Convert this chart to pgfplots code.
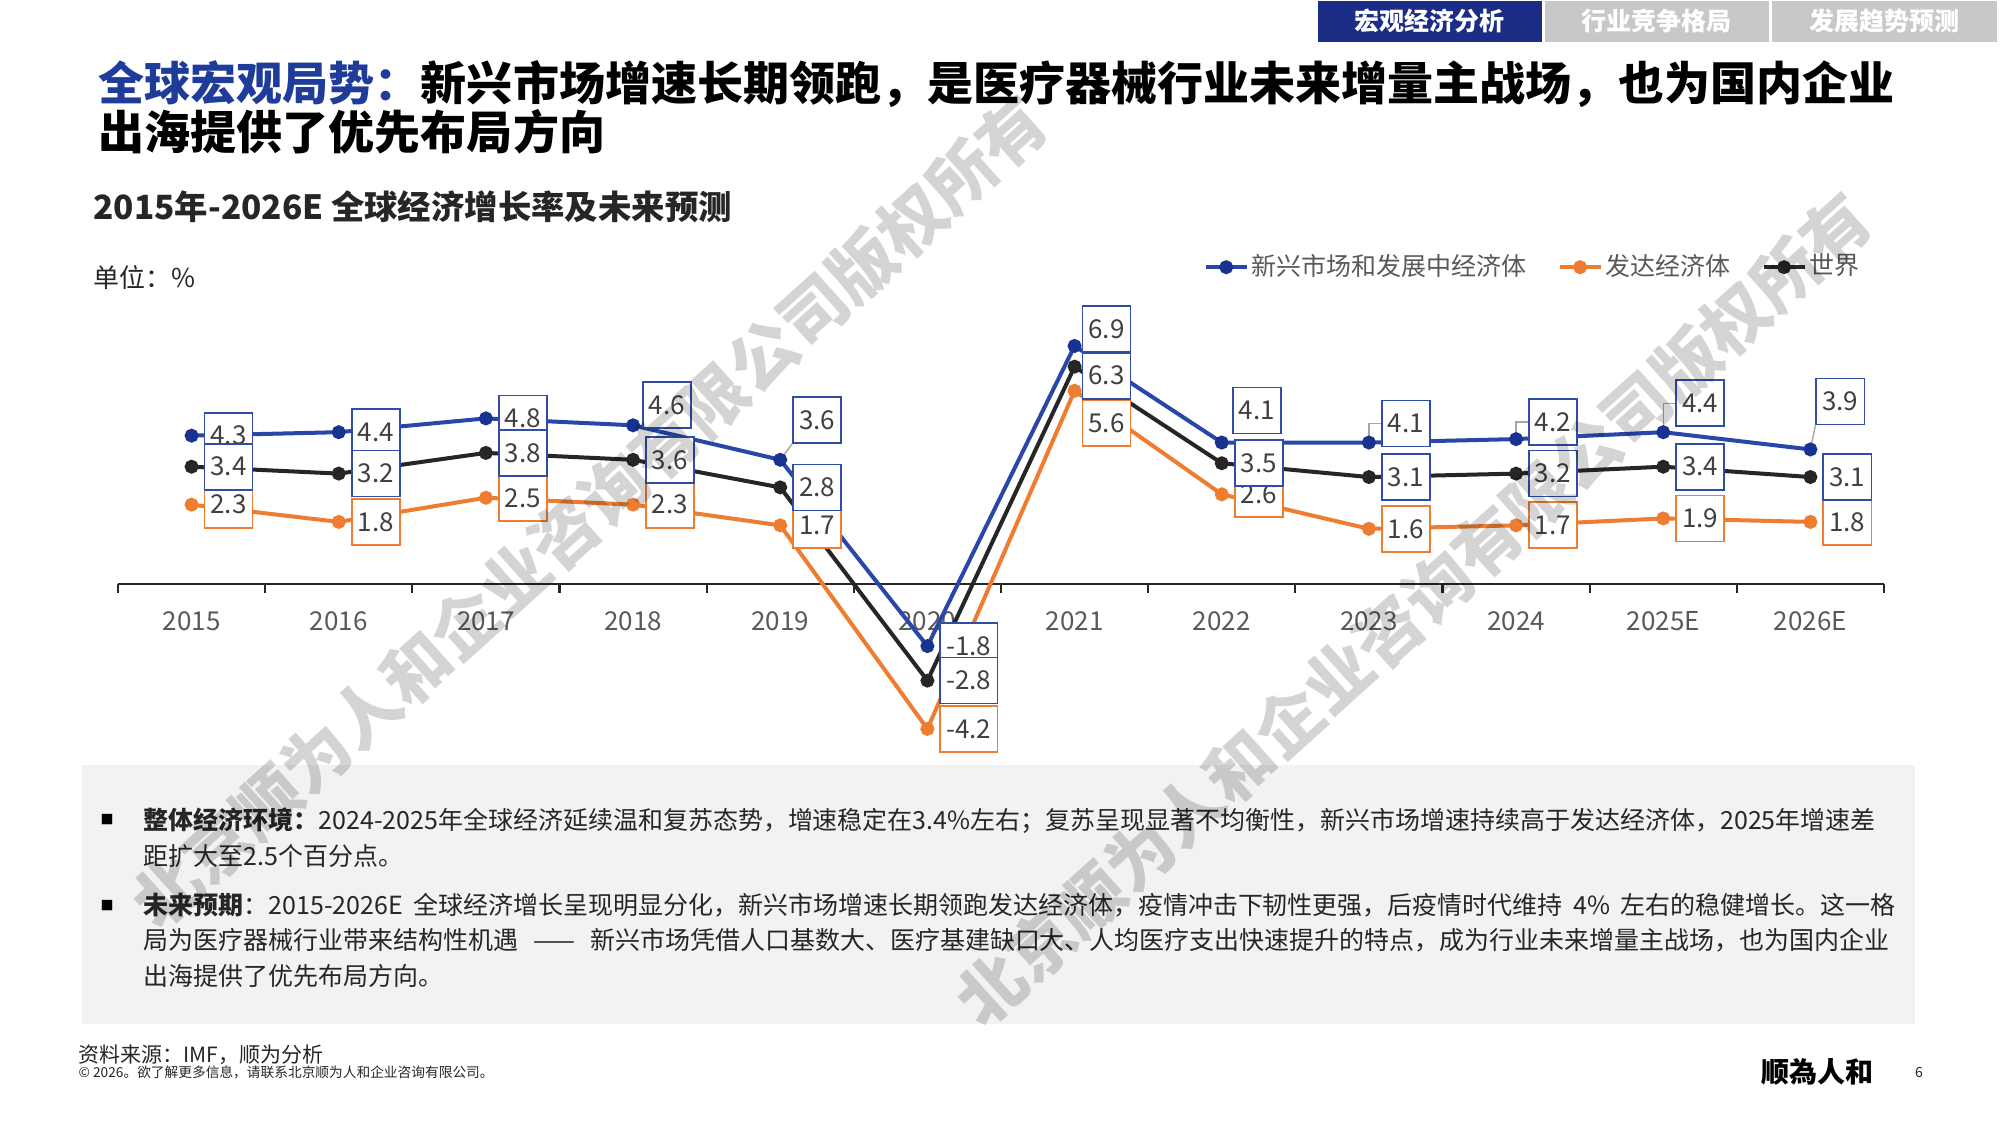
\documentclass[border=0pt]{standalone}
\usepackage{fontspec}
\setmainfont{Noto Sans CJK SC}
\usepackage{pgfplots}
\pgfplotsset{compat=1.18}
\XeTeXlinebreaklocale "zh"
\XeTeXlinebreakskip=0pt plus 2pt minus 1pt

\definecolor{lblue}{HTML}{2947A9}
\definecolor{mblue}{HTML}{17328F}
\definecolor{lorange}{HTML}{EE7D31}
\definecolor{lblack}{HTML}{262626}
\definecolor{titleblue}{HTML}{1F3C9B}
\definecolor{tabnavy}{HTML}{1C2D87}
\definecolor{tabgray}{HTML}{C8C8C8}
\definecolor{panel}{HTML}{F2F2F2}
\definecolor{ctext}{HTML}{595959}
\definecolor{clabel}{HTML}{404040}
\definecolor{bblue}{HTML}{2F4DA5}
\definecolor{lead}{HTML}{A6A6A6}

\newcommand{\fsz}[1]{\fontsize{#1pt}{#1pt}\selectfont}
\tikzset{lb/.style={draw=#1, fill=white, text=clabel, font=\fsz{7.4}, inner xsep=0.06cm, inner ysep=0pt, minimum height=0.46cm, line width=0.5pt, anchor=west, xshift=0.12cm}}

\begin{document}
\begin{tikzpicture}
\useasboundingbox (0,0) rectangle (20cm,11.25cm);
\fill[white] (0,0) rectangle (20cm,11.25cm);

\begin{scope}[shift={(0cm,11.25cm)},x=0.01cm,y=-0.01cm]
% tabs
\node[fill=tabnavy, text=white, minimum width=2.24cm, minimum height=0.41cm, inner sep=0, anchor=north west, font=\fsz{7.11}\bfseries] at (1318,0) {宏观经济分析};
\node[fill=tabgray, text=white, minimum width=2.24cm, minimum height=0.41cm, inner sep=0, anchor=north west, font=\fsz{7.11}\bfseries] at (1545,0) {行业竞争格局};
\node[fill=tabgray, text=white, minimum width=2.25cm, minimum height=0.41cm, inner sep=0, anchor=north west, font=\fsz{7.11}\bfseries] at (1772,0) {发展趋势预测};
% title
\node[anchor=base west, inner sep=0, font=\fsz{13.1}\bfseries] at (98,101) {\hbox to 17.87cm{\textcolor{titleblue}{全球宏观局势：}新兴市场增速长期领跑，是医疗器械行业未来增量主战场，也为国内企业}};
\node[anchor=base west, inner sep=0, font=\fsz{13.1}\bfseries] at (98,150) {出海提供了优先布局方向};
% subtitle
\node[anchor=base west, inner sep=0, font=\fsz{9.5}\bfseries, text=lblack] at (93,220) {2015年-2026E 全球经济增长率及未来预测};
\node[anchor=base west, inner sep=0, font=\fsz{7.4}, text=lblack] at (93,288) {单位：\%};
% panel
\fill[panel] (82,765) rectangle (1916,1025);
\node[anchor=base west, inner sep=0, font=\fsz{3.7}, text=black] at (100,825) {■};
\node[anchor=base west, inner sep=0, font=\fsz{3.7}, text=black] at (100,911) {■};
\node[anchor=base west, inner sep=0, font=\fsz{7.11}, text=lblack] at (143,829.5) {\hbox to 17.46cm{\textbf{整体经济环境：}2024-2025年全球经济延续温和复苏态势，增速稳定在3.4\%左右；复苏呈现显著不均衡性，新兴市场增速持续高于发达经济体，2025年增速差}};
\node[anchor=base west, inner sep=0, font=\fsz{7.11}, text=lblack] at (143,865.5) {距扩大至2.5个百分点。};
\node[anchor=base west, inner sep=0, font=\fsz{7.11}, text=lblack] at (143,915.5) {\hbox to 17.52cm{\textbf{未来预期}：2015-2026E 全球经济增长呈现明显分化，新兴市场增速长期领跑发达经济体，疫情冲击下韧性更强，后疫情时代维持 4\% 左右的稳健增长。这一格}};
\node[anchor=base west, inner sep=0, font=\fsz{7.11}, text=lblack] at (143,950.5) {\hbox to 17.46cm{局为医疗器械行业带来结构性机遇 —— 新兴市场凭借人口基数大、医疗基建缺口大、人均医疗支出快速提升的特点，成为行业未来增量主战场，也为国内企业}};
\node[anchor=base west, inner sep=0, font=\fsz{7.11}, text=lblack] at (143,986.5) {出海提供了优先布局方向。};
% footer
\node[anchor=base west, inner sep=0, font=\fsz{5.98}, text=lblack] at (78,1063) {资料来源：IMF，顺为分析};
\node[anchor=base west, inner sep=0, font=\fsz{3.9}, text=lblack] at (78,1078) {© 2026。欲了解更多信息，请联系北京顺为人和企业咨询有限公司。};
\node[anchor=base west, inner sep=0, font=\fsz{7.97}\bfseries, text=black] at (1762,1083) {顺為人和};
\node[anchor=base, inner sep=0, font=\fsz{3.98}, text=lblack] at (1920,1078) {6};
\end{scope}

\begin{axis}[
  at={(1.18cm,3.685cm)}, anchor=south west,
  scale only axis, width=17.66cm, height=4.485cm,
  xmin=-0.5, xmax=11.5, ymin=-5, ymax=8,
  axis x line=middle, axis y line=none,
  x axis line style={-, line width=0.6pt, black!85},
  xtick={-0.5,0.5,...,11.5}, xticklabels={},
  tick align=outside, major tick length=0.09cm,
  x tick style={line width=0.6pt, black!85},
  hide obscured x ticks=false,
  extra x ticks={0,1,2,3,4,5,6,7,8,9,10,11},
  extra x tick labels={2015,2016,2017,2018,2019,2020,2021,2022,2023,2024,2025E,2026E},
  extra x tick style={major tick length=0pt, tick style={draw=none}},
  x tick label style={font=\fsz{7.4}, text=ctext, anchor=base, yshift=-0.46cm},
  clip=false,
  legend columns=3,
  legend cell align=left,
  legend style={at={(0.6144,1.091)}, anchor=west, draw=none, fill=none, inner sep=0pt,
    font=\fsz{7.11}, text=ctext, nodes={inner xsep=0.025cm, inner ysep=0pt},
    /tikz/every even column/.append style={column sep=0.29cm}},
  legend image code/.code={\draw[mark repeat=2,mark phase=2] plot coordinates {(0cm,0cm) (0.205cm,0cm) (0.41cm,0cm)};},
]
\addplot[lblue, line width=1.14pt, mark=*, mark size=1.4pt, mark options={fill=mblue, draw=mblue}] coordinates {
(0,4.3) (1,4.4) (2,4.8) (3,4.6) (4,3.6) (5,-1.8) (6,6.9) (7,4.1) (8,4.1) (9,4.2) (10,4.4) (11,3.9)};
\addlegendentry{新兴市场和发展中经济体}
\addplot[lorange, line width=1.14pt, mark=*, mark size=1.4pt, mark options={fill=lorange, draw=lorange}] coordinates {
(0,2.3) (1,1.8) (2,2.5) (3,2.3) (4,1.7) (5,-4.2) (6,5.6) (7,2.6) (8,1.6) (9,1.7) (10,1.9) (11,1.8)};
\addlegendentry{发达经济体}
\addplot[lblack, line width=1.14pt, mark=*, mark size=1.4pt, mark options={fill=lblack, draw=lblack}] coordinates {
(0,3.4) (1,3.2) (2,3.8) (3,3.6) (4,2.8) (5,-2.8) (6,6.3) (7,3.5) (8,3.1) (9,3.2) (10,3.4) (11,3.1)};
\addlegendentry{世界}

% blue labels
\node[lb=bblue] at (axis cs:0,4.3) {4.3};
\node[lb=bblue] at (axis cs:1,4.4) {4.4};
\node[lb=bblue] at (axis cs:2,4.8) {4.8};
\node[lb=bblue, xshift=-0.03cm, yshift=0.20cm] at (axis cs:3,4.6) {4.6};
\node[lb=bblue, yshift=0.40cm] (b4) at (axis cs:4,3.6) {3.6};
\node[lb=bblue] at (axis cs:5,-1.8) {-1.8};
\node[lb=bblue, xshift=-0.05cm, yshift=0.17cm] at (axis cs:6,6.9) {6.9};
\node[lb=bblue, xshift=-0.02cm, yshift=0.32cm] at (axis cs:7,4.1) {4.1};
\node[lb=bblue, yshift=0.19cm] (b8) at (axis cs:8,4.1) {4.1};
\node[lb=bblue, yshift=0.17cm] (b9) at (axis cs:9,4.2) {4.2};
\node[lb=bblue, yshift=0.29cm] (b10) at (axis cs:10,4.4) {4.4};
\node[lb=bblue, xshift=-0.07cm, yshift=0.48cm] (b11) at (axis cs:11,3.9) {3.9};
\draw[lead, line width=0.4pt] (axis cs:4,3.6) -- (b4.south west);
\draw[lead, line width=0.4pt] (axis cs:8,4.1) |- (b8.west);
\draw[lead, line width=0.4pt] (axis cs:9,4.2) |- (b9.west);
\draw[lead, line width=0.4pt] (axis cs:10,4.4) |- (b10.west);
\draw[lead, line width=0.4pt] (axis cs:11,3.9) -- (b11.south west);
% orange labels
\node[lb=lorange] at (axis cs:0,2.3) {2.3};
\node[lb=lorange] at (axis cs:1,1.8) {1.8};
\node[lb=lorange] at (axis cs:2,2.5) {2.5};
\node[lb=lorange] at (axis cs:3,2.3) {2.3};
\node[lb=lorange] at (axis cs:4,1.7) {1.7};
\node[lb=lorange] at (axis cs:5,-4.2) {-4.2};
\node[lb=lorange, xshift=-0.05cm, yshift=-0.32cm] at (axis cs:6,5.6) {5.6};
\node[lb=lorange] at (axis cs:7,2.6) {2.6};
\node[lb=lorange] at (axis cs:8,1.6) {1.6};
\node[lb=lorange] at (axis cs:9,1.7) {1.7};
\node[lb=lorange] at (axis cs:10,1.9) {1.9};
\node[lb=lorange] at (axis cs:11,1.8) {1.8};
% black labels
\node[lb=bblue] at (axis cs:0,3.4) {3.4};
\node[lb=bblue] at (axis cs:1,3.2) {3.2};
\node[lb=bblue] at (axis cs:2,3.8) {3.8};
\node[lb=bblue] at (axis cs:3,3.6) {3.6};
\node[lb=bblue] at (axis cs:4,2.8) {2.8};
\node[lb=bblue] at (axis cs:5,-2.8) {-2.8};
\node[lb=bblue, xshift=-0.05cm, yshift=-0.09cm] at (axis cs:6,6.3) {6.3};
\node[lb=bblue] at (axis cs:7,3.5) {3.5};
\node[lb=bblue] at (axis cs:8,3.1) {3.1};
\node[lb=bblue] at (axis cs:9,3.2) {3.2};
\node[lb=bblue] at (axis cs:10,3.4) {3.4};
\node[lb=bblue] at (axis cs:11,3.1) {3.1};
\end{axis}

% watermark
\begin{scope}[shift={(0cm,11.25cm)},x=0.01cm,y=-0.01cm]
\node[rotate=42, text=black, text opacity=0.17, font=\fsz{19}\bfseries, inner sep=0] at (590,512) {北京顺为人和企业咨询有限公司版权所有};
\node[rotate=42, text=black, text opacity=0.17, font=\fsz{19}\bfseries, inner sep=0] at (1414,610) {北京顺为人和企业咨询有限公司版权所有};
\end{scope}
\end{tikzpicture}
\end{document}
